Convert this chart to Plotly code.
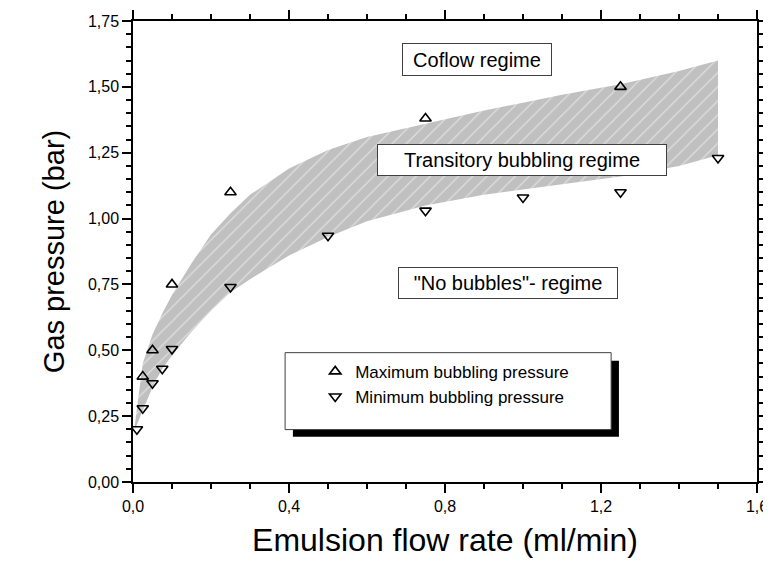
import plotly.graph_objects as go

# Data
max_x = [0.025, 0.05, 0.1, 0.25, 0.75, 1.25]
max_y = [0.40, 0.50, 0.75, 1.10, 1.38, 1.50]

min_x = [0.01, 0.025, 0.05, 0.075, 0.1, 0.25, 0.5, 0.75, 1.0, 1.25, 1.5]
min_y = [0.20, 0.28, 0.375, 0.43, 0.505, 0.74, 0.935, 1.03, 1.08, 1.10, 1.23]

band_x = [0.005, 0.025, 0.05, 0.075, 0.1, 0.15, 0.2, 0.25, 0.3, 0.4, 0.5, 0.6, 0.75, 0.9, 1.0, 1.1, 1.25, 1.4, 1.5]
band_upper = [0.22, 0.45, 0.56, 0.64, 0.71, 0.83, 0.94, 1.02, 1.09, 1.19, 1.26, 1.31, 1.36, 1.41, 1.44, 1.47, 1.51, 1.56, 1.60]
band_lower = [0.20, 0.27, 0.36, 0.43, 0.48, 0.57, 0.65, 0.72, 0.77, 0.86, 0.93, 0.99, 1.05, 1.09, 1.11, 1.13, 1.16, 1.20, 1.24]

x_ticks = [0.0, 0.4, 0.8, 1.2, 1.6]
y_ticks = [0.0, 0.25, 0.5, 0.75, 1.0, 1.25, 1.5, 1.75]

FONT = "Liberation Sans, Arial, sans-serif"

fig = go.Figure()

# Hatched transitory band
fig.add_trace(go.Scatter(
    x=band_x + band_x[::-1],
    y=band_upper + band_lower[::-1],
    fill="toself",
    fillcolor="#c0c0c0",
    fillpattern=dict(shape="/", bgcolor="#c0c0c0", fgcolor="white",
                     size=10, solidity=0.12),
    line=dict(width=0),
    mode="lines",
    hoverinfo="skip",
    showlegend=False,
))

fig.add_trace(go.Scatter(
    x=max_x, y=max_y, mode="markers", name="Maximum bubbling pressure",
    marker=dict(symbol="triangle-up-open", size=10, color="black",
                line=dict(width=1.6, color="black")),
))
fig.add_trace(go.Scatter(
    x=min_x, y=min_y, mode="markers", name="Minimum bubbling pressure",
    marker=dict(symbol="triangle-down-open", size=10, color="black",
                line=dict(width=1.6, color="black")),
))

# Legend box with shadow
fig.add_shape(type="rect", xref="x", yref="y", x0=0.41, x1=1.246, y0=0.172, y1=0.46,
              fillcolor="black", line=dict(width=0), layer="below")
fig.add_shape(type="rect", xref="x", yref="y", x0=0.39, x1=1.226, y0=0.199, y1=0.491,
              fillcolor="white", line=dict(width=1, color="#404040"), layer="below")

# Regime labels
def box(text, x, y, w, h):
    fig.add_annotation(x=x, y=y, xref="x", yref="y", text=text, showarrow=False,
                       font=dict(family=FONT, size=20, color="black"),
                       bgcolor="white", bordercolor="#404040", borderwidth=1,
                       borderpad=0, width=w, height=h)

box("Coflow regime", 0.882, 1.603, 148, 31)
box("Transitory bubbling regime", 0.997, 1.223, 288, 30)
box("\"No bubbles\"- regime", 0.962, 0.756, 218, 30)

# page body has an 8px margin, so the figure is 8px smaller than the window
fig.update_layout(
    width=763, height=555,
    margin=dict(l=125, r=14, t=13, b=81, autoexpand=False),
    paper_bgcolor="white", plot_bgcolor="white",
    separators=",.",
    font=dict(family=FONT, color="black", size=16),
    showlegend=True,
    legend=dict(x=0.292, y=0.278, xanchor="left", yanchor="top",
                bgcolor="rgba(0,0,0,0)", borderwidth=0,
                font=dict(family=FONT, size=17), tracegroupgap=0),
)

axis_common = dict(
    automargin=False,
    showgrid=False, zeroline=False, showline=True, linecolor="black", linewidth=1.5,
    mirror="ticks", ticks="outside", ticklen=9, tickwidth=1.5, tickcolor="black",
    tickfont=dict(family=FONT, size=16, color="black"),
)

fig.update_xaxes(range=[0, 1.6], tickvals=x_ticks, tickformat=".1f",
                 minor=dict(dtick=0.1, ticks="outside", ticklen=5, tickwidth=1.5, tickcolor="black"),
                 title=dict(text="Emulsion flow rate (ml/min)", font=dict(family=FONT, size=32)),
                 **axis_common)
fig.update_yaxes(range=[0, 1.75], tickvals=y_ticks, tickformat=".2f",
                 minor=dict(dtick=0.05, ticks="outside", ticklen=5, tickwidth=1.5, tickcolor="black"),
                 title=dict(text="Gas pressure (bar)", font=dict(family=FONT, size=29)),
                 **axis_common)

fig.write_html("out.html")
